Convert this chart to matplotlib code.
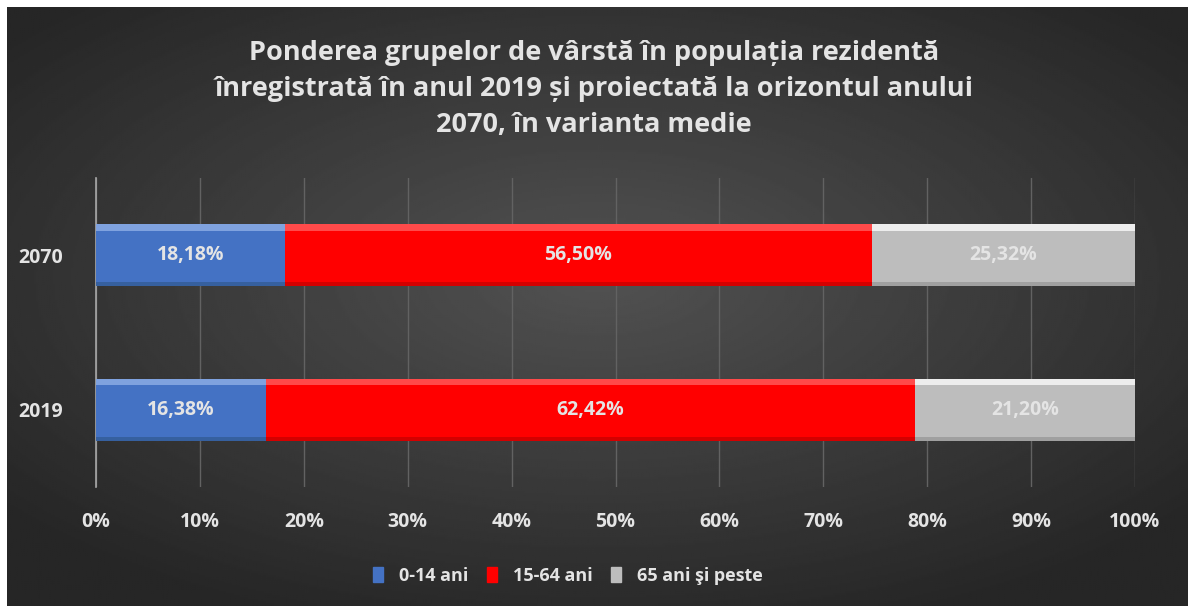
import numpy as np
import matplotlib.pyplot as plt
from matplotlib.patches import Rectangle

# date
ani = ['2019', '2070']
grupe = ['0-14 ani', '15-64 ani', '65 ani şi peste']
v_0_14 = [16.38, 18.18]
v_15_64 = [62.42, 56.50]
v_65 = [21.20, 25.32]
etichete = [['16,38%', '18,18%'], ['62,42%', '56,50%'], ['21,20%', '25,32%']]
x_ticks = [0, 10, 20, 30, 40, 50, 60, 70, 80, 90, 100]

culori = ['#4472C4', '#FF0000', '#BDBDBD']
culori_sus = ['#7FA2DF', '#FF4A4A', '#EDEDED']
culori_jos = ['#36609F', '#D40000', '#A0A0A0']
text_col = '#E4E4E4'

plt.rcParams['font.family'] = ['Open Sans', 'DejaVu Sans']

fig = plt.figure(figsize=(11.88, 6.06), dpi=100)
fig.patch.set_facecolor('white')

# fundal cu gradient radial
bg = fig.add_axes([7 / 1188, 0, 1 - 7 / 1188, 1 - 7 / 606])
yy, xx = np.mgrid[-1:1:300j, -1:1:600j]
r = np.sqrt(xx ** 2 + ((yy + 0.1) / 0.95) ** 2)
g = np.clip(1 - r / 1.3, 0, 1)
niv = 0.15 + 0.17 * g
bg.imshow(niv, cmap='gray', vmin=0, vmax=1, aspect='auto', extent=[0, 1, 0, 1])
bg.axis('off')

ax = fig.add_axes([96 / 1188, 1 - 487 / 606, (1135 - 96) / 1188, (487 - 178) / 606])
ax.patch.set_alpha(0)

y = np.arange(len(ani))
h = 0.4
serii = [v_0_14, v_15_64, v_65]
left = np.zeros(len(ani))
for i, vals in enumerate(serii):
    vals = np.array(vals)
    ax.barh(y, vals, left=left, height=h, color=culori[i], zorder=3, label=grupe[i])
    # efect de relief
    ax.barh(y + h / 2 - 0.02, vals, left=left, height=0.04, color=culori_sus[i], zorder=4)
    ax.barh(y - h / 2 + 0.012, vals, left=left, height=0.024, color=culori_jos[i], zorder=4)
    for j in range(len(ani)):
        ax.text(left[j] + vals[j] / 2, y[j], etichete[i][j], ha='center', va='center',
                color=text_col, fontsize=14, fontweight='bold', zorder=5)
    left += vals

ax.set_xlim(0, 100)
ax.set_ylim(-0.5, 1.5)
ax.set_xticks(x_ticks)
ax.set_xticklabels([f'{t}%' for t in x_ticks])
ax.set_yticks(y)
ax.set_yticklabels(ani)
ax.grid(axis='x', color='#626262', linewidth=1, zorder=1)
ax.tick_params(length=0, colors=text_col, labelsize=14)
ax.tick_params(axis='y', pad=24)
ax.tick_params(axis='x', pad=18)
for lab in ax.get_xticklabels() + ax.get_yticklabels():
    lab.set_fontweight('bold')
for s in ['top', 'right', 'bottom']:
    ax.spines[s].set_visible(False)
ax.spines['left'].set_color('#A8A8A8')
ax.spines['left'].set_linewidth(1.2)

fig.text(0.5, 1 - 89 / 606,
         'Ponderea grupelor de vârstă în populația rezidentă\n'
         'înregistrată în anul 2019 și proiectată la orizontul anului\n'
         '2070, în varianta medie',
         ha='center', va='center', color=text_col, fontsize=19.5, fontweight='bold',
         linespacing=1.5)

handles = [Rectangle((0, 0), 1, 1, color=c) for c in culori]
leg = fig.legend(handles, grupe, loc='center', bbox_to_anchor=(0.478, 1 - 576 / 606),
                 ncol=3, frameon=False, handlelength=0.55, handleheight=0.9,
                 handletextpad=0.9, columnspacing=1.0, prop={'size': 13, 'weight': 'bold'})
for t in leg.get_texts():
    t.set_color(text_col)

fig.savefig('out.png', dpi=100, facecolor=fig.get_facecolor())
